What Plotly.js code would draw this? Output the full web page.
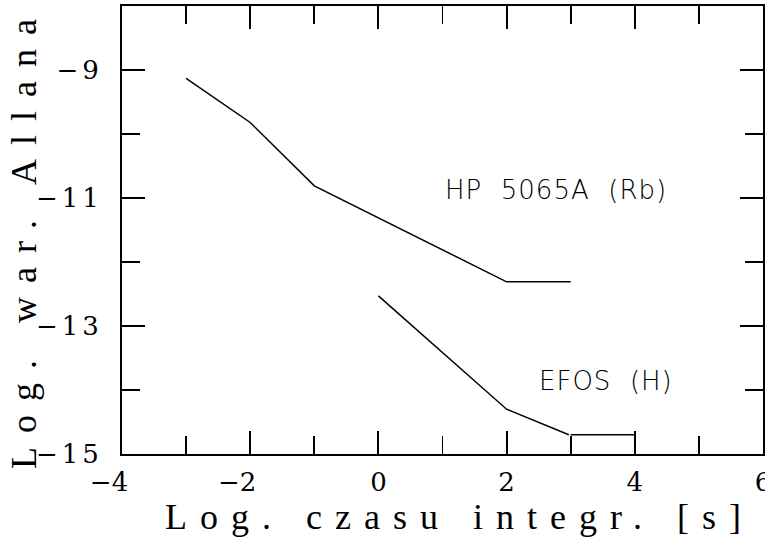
<!DOCTYPE html>
<html><head><meta charset="utf-8">
<script src="https://cdn.plot.ly/plotly-3.0.1.min.js"></script>
<style>
body{margin:0;background:#fff}
#chart{width:765px;height:539px}
.xtitle{letter-spacing:13px}
.ytitle{letter-spacing:14px}
.ytick text{letter-spacing:4px}
.annotation-text{letter-spacing:1px}
</style></head>
<body><div id="chart"></div>
<script>
// HP 5065A (Rb)
const rbX = [-3, -2, -1, 2, 3];
const rbY = [-9.13, -9.82, -10.81, -12.31, -12.31];
// EFOS (H)
const efosX = [0, 2, 2.97];
const efosY = [-12.53, -14.3, -14.7];
const efosFlatX = [3.0, 4];
const efosFlatY = [-14.7, -14.7];
const labelText = ["HP  5065A  (Rb)", "EFOS  (H)"];
const labelX = [2.77, 3.55];
const labelY = [-10.88, -13.86];
// tick labels
const xTickVals = [-4, -2, 0, 2, 4, 6];
const xTickText = ["\u22124\u2003", "\u22122\u2003", "0", "2", "4", "6"];
const yTickVals = [-15, -13, -11, -9];
const yTickText = ["\u221215", "\u221213", "\u221211", "\u22129"];

const lineStyle = {color:'#000', width:1.5};
const traces = [
  {x: rbX, y: rbY, mode:'lines', line: lineStyle, hoverinfo:'skip'},
  {x: efosX, y: efosY, mode:'lines', line: lineStyle, hoverinfo:'skip'},
  {x: efosFlatX, y: efosFlatY, mode:'lines', line: lineStyle, hoverinfo:'skip'}
];
const axisCommon = {
  showgrid:false, zeroline:false, showline:true, linecolor:'#000', linewidth:2,
  mirror:'ticks', ticks:'inside', ticklen:23, tickwidth:1.8, tickcolor:'#000',
  tickfont:{family:'DejaVu Serif', size:26, color:'#000'},
  ticklabeloverflow:'allow',
  tickmode:'array',
  fixedrange:true
};
const layout = {
  width:765, height:539,
  margin:{l:122, r:2, t:6, b:85},
  paper_bgcolor:'#fff', plot_bgcolor:'#fff',
  showlegend:false,
  xaxis: Object.assign({}, axisCommon, {
    range:[-4, 6], tickvals:xTickVals, ticktext:xTickText,
    minor:{tickmode:'linear', tick0:-3, dtick:2, ticks:'inside', ticklen:18, tickwidth:1.8, tickcolor:'#000'},
    ticklabelstandoff:4,
    title:{text:'Log. czasu integr. [s]', font:{family:'Liberation Serif', size:36, color:'#000'}, standoff:2}
  }),
  yaxis: Object.assign({}, axisCommon, {
    range:[-15, -8], tickvals:yTickVals, ticktext:yTickText,
    minor:{tickmode:'linear', tick0:-14, dtick:2, ticks:'inside', ticklen:18, tickwidth:1.8, tickcolor:'#000'},
    ticklabelstandoff:12,
    title:{text:'Log. war. Allana', font:{family:'Liberation Serif', size:36, color:'#000'}, standoff:0}
  }),
  annotations: labelText.map((t,i)=>({
    x: labelX[i], y: labelY[i], xref:'x', yref:'y', text:t, showarrow:false,
    font:{family:'DejaVu Sans', size:26, color:'#000', weight:200}
  }))
};
Plotly.newPlot('chart', traces, layout, {staticPlot:true}).then(function(){
  var xt = document.querySelector('.xtitle');
  if (xt) xt.setAttribute('transform', 'translate(17,0) ' + (xt.getAttribute('transform') || ''));
  var yt = document.querySelector('.ytitle');
  if (yt) yt.setAttribute('transform', 'translate(4,7) ' + (yt.getAttribute('transform') || ''));
});
</script></body></html>
